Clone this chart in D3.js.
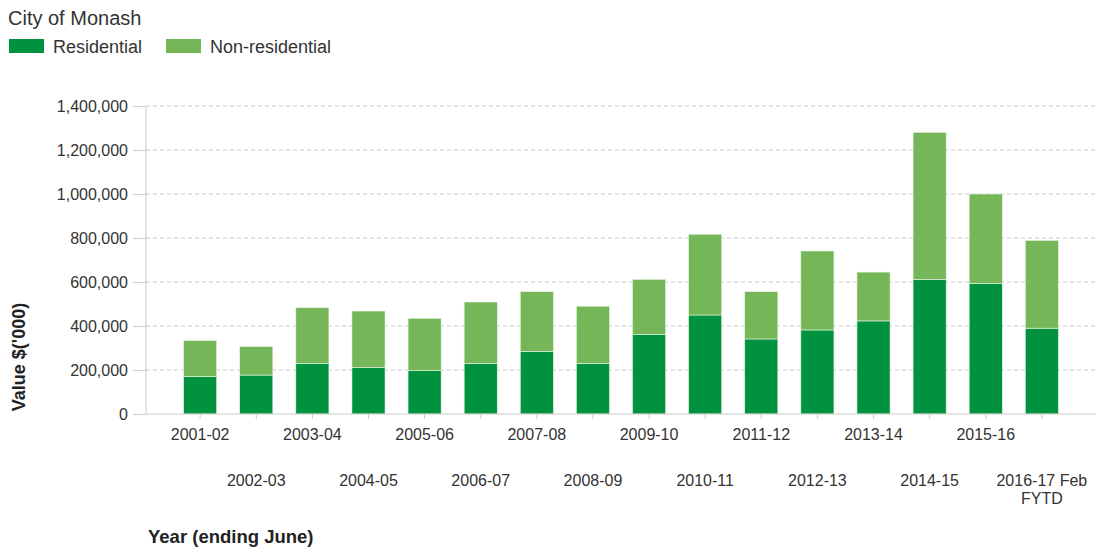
<!DOCTYPE html>
<html>
<head>
<meta charset="utf-8">
<script src="https://cdn.jsdelivr.net/npm/d3@7"></script>
<style>
  body { margin: 0; background: #fff; }
  svg { display: block; font-family: Arial, "Liberation Sans", sans-serif; }
  .grid line { stroke: #c8c8c8; stroke-dasharray: 4,3; }
</style>
</head>
<body>
<svg width="1096" height="550"></svg>
<script>
  const years = ['2001-02', '2002-03', '2003-04', '2004-05', '2005-06', '2006-07', '2007-08', '2008-09',
    '2009-10', '2010-11', '2011-12', '2012-13', '2013-14', '2014-15', '2015-16', '2016-17 Feb FYTD']
  const residential = [171000, 177000, 230000, 211000, 197000, 230000, 285000, 230000,
    361000, 450000, 341000, 382000, 423000, 612000, 594000, 390000]
  const nonResidential = [163000, 129000, 253000, 257000, 238000, 279000, 271000, 260000,
    251000, 367000, 215000, 359000, 222000, 668000, 406000, 399000]
  const seriesNames = ['Residential', 'Non-residential']
  const colors = ['#00923f', '#75b758']
  const yTicks = [0, 200000, 400000, 600000, 800000, 1000000, 1200000, 1400000];

  (function (d3) {
    'use strict'

    const svg = d3.select('svg')
    const plotLeft = 146, plotRight = 1096, plotTop = 106, plotBottom = 414

    const x = d3.scaleBand().
      domain(years).
      range([plotLeft, plotRight]).
      paddingInner(0.41).
      paddingOuter(0.67)

    const y = d3.scaleLinear().
      domain([0, 1400000]).
      range([plotBottom, plotTop])

    const rows = years.map((yr, i) => ({ year: yr, Residential: residential[i], 'Non-residential': nonResidential[i] }))
    const stacked = d3.stack().keys(seriesNames)(rows)

    // title + legend
    svg.append('text').
      attr('x', 8).attr('y', 25).
      attr('font-size', 20).attr('fill', '#333').
      text('City of Monash')

    const legendX = [9, 166]
    seriesNames.forEach((name, i) => {
      svg.append('rect').
        attr('x', legendX[i]).attr('y', 39).
        attr('width', 35).attr('height', 14).
        attr('fill', colors[i])
      svg.append('text').
        attr('x', legendX[i] + 44).attr('y', 53).
        attr('font-size', 18).attr('fill', '#333').
        text(name)
    })

    // grid
    svg.append('g').
      attr('class', 'grid').
      selectAll('line').
      data(yTicks.slice(1)).
      enter().
      append('line').
      attr('x1', plotLeft).attr('x2', plotRight).
      attr('y1', d => y(d)).attr('y2', d => y(d))

    // y axis
    const yAxis = svg.append('g').
      attr('transform', `translate(${plotLeft},0)`).
      call(d3.axisLeft(y).tickValues(yTicks).tickFormat(d3.format(',')).tickSize(13).tickPadding(5))
    yAxis.select('.domain').attr('stroke', '#ccc').attr('d', `M0,${plotTop}V${plotBottom}`)
    yAxis.selectAll('.tick line').attr('stroke', '#ccc')
    yAxis.selectAll('.tick text').
      attr('font-size', 16).attr('fill', '#333').
      attr('font-family', 'Arial, "Liberation Sans", sans-serif')

    // bars
    svg.append('g').
      selectAll('g').
      data(stacked).
      enter().
      append('g').
      attr('fill', (d, i) => colors[i]).
      selectAll('rect').
      data(d => d).
      enter().
      append('rect').
      attr('x', d => x(d.data.year)).
      attr('y', d => y(d[1])).
      attr('width', x.bandwidth()).
      attr('height', d => y(d[0]) - y(d[1])).
      attr('stroke', '#e8f5e4').
      attr('stroke-width', 0.6)

    // x axis
    const xAxis = svg.append('g').
      attr('transform', `translate(0,${plotBottom})`).
      call(d3.axisBottom(x).tickSize(5).tickFormat(''))
    xAxis.select('.domain').attr('stroke', '#ccc').attr('d', `M${plotLeft},0H${plotRight}`)
    xAxis.selectAll('.tick line').attr('stroke', '#ccc')

    // staggered category labels, last one wraps onto two lines
    const xLabels = svg.append('g')
    years.forEach((yr, i) => {
      const cx = x(yr) + x.bandwidth() / 2
      const baseY = i % 2 === 0 ? 440 : 486
      const parts = yr === '2016-17 Feb FYTD' ? ['2016-17 Feb', 'FYTD'] : [yr]
      parts.forEach((p, j) => {
        xLabels.append('text').
          attr('x', cx).attr('y', baseY + j * 18).
          attr('text-anchor', 'middle').
          attr('font-size', 16).attr('fill', '#333').
          text(p)
      })
    })

    // axis titles
    svg.append('text').
      attr('transform', 'translate(25,357) rotate(-90)').
      attr('text-anchor', 'middle').
      attr('font-size', 18).attr('font-weight', 'bold').attr('fill', '#222').
      text("Value $('000)")

    svg.append('text').
      attr('x', 148).attr('y', 543).
      attr('font-size', 18.5).attr('font-weight', 'bold').attr('fill', '#222').
      text('Year (ending June)')
  }(d3))
</script>
</body>
</html>
